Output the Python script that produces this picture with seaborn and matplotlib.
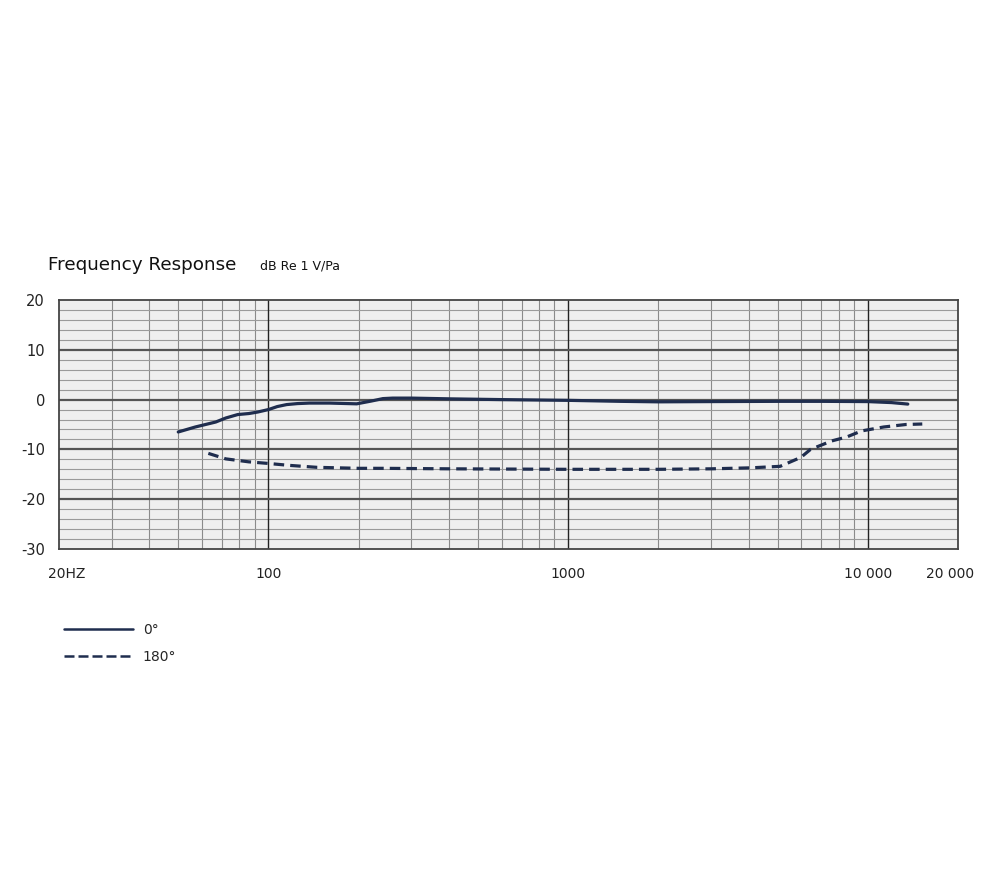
import numpy as np
import pandas as pd
import matplotlib
matplotlib.use("Agg")
import matplotlib.pyplot as plt
import matplotlib.transforms as mtransforms
import seaborn as sns
from matplotlib.ticker import FixedLocator, NullFormatter
from matplotlib.lines import Line2D

# ---- data ----
freq_0 = [50, 57, 66.7, 72, 79, 86, 92, 100, 107, 115, 125, 137, 160, 197, 220, 241, 260, 300, 405, 600, 1000, 1500, 2000, 3000, 5000, 7000, 10000, 12000, 13600]
db_0 = [-6.5, -5.5, -4.5, -3.7, -3.0, -2.8, -2.5, -2.0, -1.4, -1.0, -0.8, -0.7, -0.7, -0.85, -0.3, 0.2, 0.3, 0.3, 0.15, 0.0, -0.15, -0.35, -0.45, -0.4, -0.35, -0.35, -0.4, -0.6, -0.9]

freq_180 = [63, 72, 86, 99, 117, 145, 200, 241, 405, 1000, 2000, 3000, 4080, 5100, 5980, 6440, 7580, 8510, 9520, 11300, 13400, 15200]
db_180 = [-10.8, -11.9, -12.5, -12.8, -13.2, -13.6, -13.8, -13.8, -13.9, -14.0, -14.0, -13.9, -13.7, -13.4, -11.6, -10.0, -8.3, -7.5, -6.3, -5.5, -5.0, -4.9]

series_labels = ["0\u00b0", "180\u00b0"]
x_ticks = [20, 100, 1000, 10000, 20000]
x_ticklabels = ["20HZ", "100", "1000", "10 000", "20 000"]
y_ticks = [20, 10, 0, -10, -20, -30]

df = pd.DataFrame({
    "freq": freq_0 + freq_180,
    "db": db_0 + db_180,
    "angle": [series_labels[0]] * len(freq_0) + [series_labels[1]] * len(freq_180),
})

# ---- style ----
sns.set_style("white")
plt.rcParams["font.family"] = ["DejaVu Sans"]
navy = "#1f2d4e"

fig = plt.figure(figsize=(10, 8.75), dpi=100)
ax = fig.add_axes([0.059, 1 - 549 / 875, 0.899, 249 / 875])
ax.set_facecolor("#efefef")

sns.lineplot(data=df, x="freq", y="db", style="angle", ax=ax, color=navy,
             dashes={series_labels[0]: "", series_labels[1]: (3.3, 1.9)},
             linewidth=2.3, legend=False, sort=False)

ax.set_xscale("log")
ax.set_xlim(20, 20000)
ax.set_ylim(-30, 20)

# grid
minor_x = [f * d for d in (10, 100, 1000) for f in range(2, 10)] + [10000 * 2]
minor_x = [v for v in minor_x if 20 < v < 20000]
for v in minor_x:
    ax.axvline(v, color="#8a8a8a", lw=0.8, zorder=0.5)
for v in (100, 1000, 10000):
    ax.axvline(v, color="#222222", lw=1.0, zorder=0.6)
for v in range(-28, 20, 2):
    if v % 10 == 0:
        ax.axhline(v, color="#555555", lw=1.6, zorder=0.7)
    else:
        ax.axhline(v, color="#9a9a9a", lw=0.8, zorder=0.5)

for s in ax.spines.values():
    s.set_color("#444444")
    s.set_linewidth(1.3)
    s.set_visible(True)

ax.set_xticks(x_ticks)
ax.set_xticklabels(x_ticklabels)
ax.xaxis.set_minor_locator(FixedLocator([]))
ax.xaxis.set_minor_formatter(NullFormatter())
ax.set_yticks(y_ticks)
ax.set_yticklabels([str(v) for v in y_ticks])
ax.tick_params(axis="x", length=0, labelsize=10, colors="#222222", pad=13)
ax.tick_params(axis="y", length=0, labelsize=10.5, colors="#222222", pad=10)
ax.set_xlabel("")
ax.set_ylabel("")

# nudge the end labels inward like the reference
xt = ax.get_xticklabels()
xt[0].set_transform(xt[0].get_transform() + mtransforms.ScaledTranslation(8 / 100, 0, fig.dpi_scale_trans))
xt[-1].set_transform(xt[-1].get_transform() + mtransforms.ScaledTranslation(-8 / 100, 0, fig.dpi_scale_trans))

# titles
fig.text(0.048, 1 - 265 / 875, "Frequency Response", fontsize=13.2, color="#111111", va="center", ha="left")
fig.text(0.260, 1 - 266 / 875, "dB Re 1 V/Pa", fontsize=9, color="#111111", va="center", ha="left")

# legend
handles = [Line2D([], [], color=navy, lw=1.8, ls="-"),
           Line2D([], [], color=navy, lw=1.8, ls=(0, (4, 1.6)))]
fig.legend(handles, series_labels, loc="upper left", bbox_to_anchor=(0.051, 1 - 610 / 875),
           frameon=False, fontsize=10, handlelength=5.0, handletextpad=0.7, labelspacing=0.95)

fig.savefig("out.png", dpi=100)
